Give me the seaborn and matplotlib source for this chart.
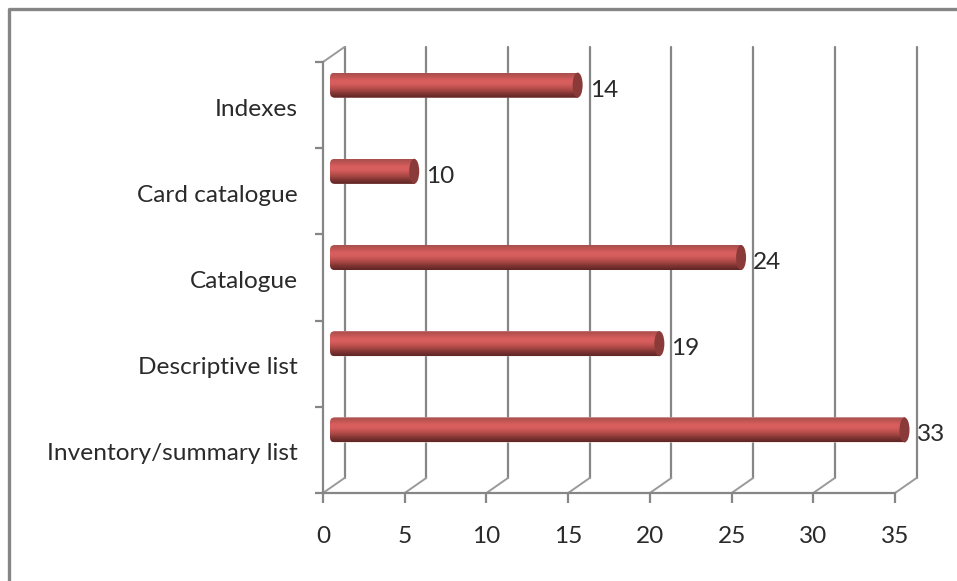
import matplotlib
matplotlib.use("Agg")
import matplotlib.pyplot as plt
import numpy as np
import seaborn as sns
from matplotlib.colors import LinearSegmentedColormap
from matplotlib.patches import Ellipse, FancyBboxPatch
from matplotlib.transforms import Affine2D

# top to bottom, as in the picture
categories = ["Indexes", "Card catalogue", "Catalogue", "Descriptive list", "Inventory/summary list"]
# the drawn bars do not agree with their printed labels in the original
bar_lengths = [15, 5, 25, 20, 35]
bar_labels = ["14", "10", "24", "19", "33"]
x_ticks = [0, 5, 10, 15, 20, 25, 30, 35]

GREY = "#868686"
TEXT = "#2a2a2a"
W, H = 957, 581
FONT = 17.6

sns.set_style("white")
plt.rcParams["font.family"] = ["Lato", "DejaVu Sans"]

fig = plt.figure(figsize=(W / 100, H / 100), dpi=100)
ax = fig.add_axes([323 / W, (H - 493) / H, 572 / W, 431 / H])

sns.barplot(x=bar_lengths, y=categories, color="#c0504d", width=0.29, ax=ax, zorder=3)
ax.set_xlim(0, 35)
ax.set_ylim(4.5, -0.5)
ax.set_xticks(x_ticks)
ax.set_yticks(np.arange(-0.5, 5), minor=True)
ax.tick_params(axis="y", which="major", length=0, pad=18, labelsize=FONT, labelcolor=TEXT)
ax.tick_params(axis="y", which="minor", length=5.8, width=1.6, color=GREY, left=True)
ax.tick_params(axis="x", length=7, width=1.6, color=GREY, bottom=True, pad=17, labelsize=FONT, labelcolor=TEXT)
for side in ["top", "right"]:
    ax.spines[side].set_visible(False)
for side in ["left", "bottom"]:
    ax.spines[side].set_color(GREY)
    ax.spines[side].set_linewidth(1.6)

# pixel coordinates, y going down like the screenshot
px = Affine2D().scale(1, -1).translate(0, H)


def to_px(x, y):
    a, b = ax.transData.transform((x, y))
    return a, H - b


# back wall of the fake 3D box
DX, DY = 21.5, 15
for t in x_ticks:
    x0, y_bot = to_px(t, 4.5)
    _, y_top = to_px(t, -0.5)
    ax.plot([x0 + DX, x0 + DX], [y_bot - DY, y_top - DY], color=GREY, lw=1.6,
            transform=px, clip_on=False, zorder=1)
    ax.plot([x0, x0 + DX], [y_bot, y_bot - DY], color="#9a9a9a", lw=1.4,
            transform=px, clip_on=False, zorder=1)
x0, y_top = to_px(0, -0.5)
ax.plot([x0, x0 + DX], [y_top, y_top - DY], color="#9a9a9a", lw=1.4, transform=px, clip_on=False, zorder=1)

# cylinder shading on each bar
shade = LinearSegmentedColormap.from_list(
    "cyl", ["#a84f4d", "#bf5553", "#d85f5e", "#d65e5d", "#c05250", "#a04341", "#7a3230", "#5e2625"])
gradient = np.linspace(0, 1, 64).reshape(-1, 1)
BAR_DX, BAR_DY = 9.5, 20
for patch, label in zip(ax.patches, bar_labels):
    b = patch.get_bbox()
    left, top = to_px(b.x0, b.y0)
    right, bottom = to_px(b.x1, b.y1)
    top, bottom = min(top, bottom) - BAR_DY, max(top, bottom) - BAR_DY
    left, right = left + BAR_DX - 2.5, right + BAR_DX

    outline = FancyBboxPatch((left + 5, top + 5), right - left - 5, bottom - top - 10,
                             boxstyle="round,pad=5,rounding_size=5", transform=px,
                             fc="none", ec="none")
    ax.add_patch(outline)
    patch.set_transform(px)
    patch.set_xy((left, top))
    patch.set_width(right - left)
    patch.set_height(bottom - top)
    patch.set_clip_box(fig.bbox)
    patch.set_clip_path(outline)

    im = ax.imshow(gradient, cmap=shade, aspect="auto", origin="upper",
                   extent=(left, right, bottom, top), zorder=4, interpolation="bilinear")
    im.set_transform(px)
    im.set_clip_box(fig.bbox)
    im.set_clip_path(outline)

    cap = Ellipse((right, (top + bottom) / 2), 10, bottom - top, fc="#8a3a39", ec="none",
                  transform=px, zorder=5, clip_on=False)
    ax.add_patch(cap)
    ax.text(right + 12, (top + bottom) / 2 + 5, label, fontsize=FONT, color=TEXT,
            ha="left", va="center", transform=px, clip_on=False, zorder=6)

ax.set_xlim(0, 35)
ax.set_ylim(4.5, -0.5)

# category labels sit a little under the band centre
for lab in ax.get_yticklabels():
    lab.set_transform(lab.get_transform() + Affine2D().translate(0, -2))

# chart area border, only top and left show in the crop
fig.add_artist(plt.Line2D([9, 9, W], [H, 9, 9], color=GREY, lw=2.4, transform=px))

fig.savefig("out.png", dpi=100)
